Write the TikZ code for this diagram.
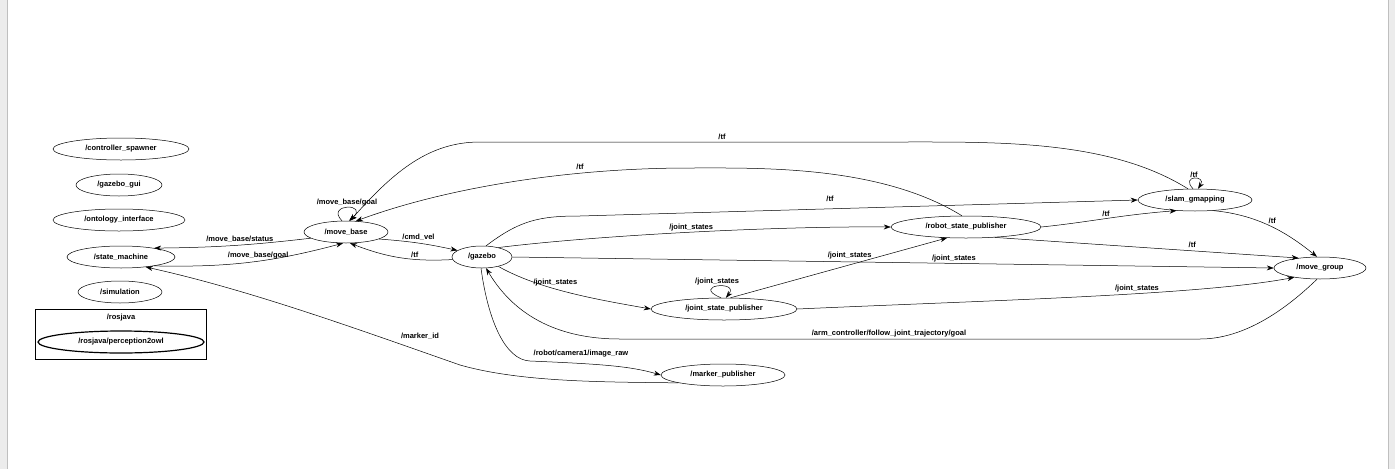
\documentclass[tikz,border=0pt]{standalone}
\usepackage{fontspec}
\setmainfont{Liberation Sans}
\usetikzlibrary{shapes.geometric,arrows.meta}
\begin{document}
\begin{tikzpicture}[x=1pt,y=-1pt,
  nd/.style={ellipse,draw,line width=0.5pt,inner sep=0pt,minimum height=22pt,font=\fontsize{7.5}{8}\selectfont\bfseries},
  e/.style={draw,line width=0.5pt,-{Stealth[length=7pt,width=5pt]}},
  lb/.style={font=\fontsize{7.5}{8}\selectfont\bfseries,inner sep=0pt}]
\useasboundingbox (0,0) rectangle (1395,469);
\fill[gray!15] (0,0) rectangle (7,469);
\fill[gray!15] (1388,0) rectangle (1395,469);
\draw[gray!50] (7,0)--(7,469) (1388,0)--(1388,469);
\node[nd,minimum width=136pt] (cs) at (121,149) {/controller\_spawner};
\node[nd,minimum width=86pt] (gg) at (119,185) {/gazebo\_gui};
\node[nd,minimum width=132pt] (oi) at (119,220) {/ontology\_interface};
\node[nd,minimum width=108pt] (sm) at (121,257) {/state\_machine};
\node[nd,minimum width=84pt] (si) at (120,292) {/simulation};
\node[draw,line width=0.5pt,minimum width=171pt,minimum height=50pt,inner sep=0pt] (rj) at (120.5,334) {};
\node[lb] (rjl) at (121,318) {/rosjava};
\node[nd,line width=1.2pt,minimum width=166pt] (p2o) at (121,342) {/rosjava/perception2owl};
\node[nd,minimum width=84pt] (mb) at (346,232) {/move\_base};
\node[nd,minimum width=60pt] (gz) at (482,257) {/gazebo};
\node[nd,minimum width=150pt] (rsp) at (966,227) {/robot\_state\_publisher};
\node[nd,minimum width=114pt] (slam) at (1195,200) {/slam\_gmapping};
\node[nd,minimum width=92pt] (mg) at (1320,268) {/move\_group};
\node[nd,minimum width=146pt] (jsp) at (724,309) {/joint\_state\_publisher};
\node[nd,minimum width=124pt] (mp) at (723,375) {/marker\_publisher};
% edges
\draw[e] (mb.190) to[bend left=3] node[lb,above=2pt,pos=0.45] {/move\_base/status} (sm.15);
\draw[e] (sm.-15) to[bend right=8] node[lb,above=2pt,pos=0.55] {/move\_base/goal} (mb.-105);
\draw[e] (mb.110) .. controls (325,203) and (370,203) .. node[lb,above=1pt] {/move\_base/goal} (mb.75);
\draw[e] (mb.-12) to[bend left=4] node[lb,above=2pt] {/cmd\_vel} (gz.165);
\draw[e] (gz.185) to[bend left=12] node[lb,above=1pt,pos=0.35] {/tf} (mb.-70);
\draw[e] (slam.122) .. controls (1110,140) and (1000,142) .. (900,142) -- (480,142) .. controls (430,142) and (395,170) .. (mb.70);
\node[lb] (tf1) at (722,137) {/tf};
\draw[e] (rsp.110) .. controls (880,165) and (760,168) .. (690,168) .. controls (560,168) and (440,190) .. (mb.48);
\node[lb] (tf2) at (580,167) {/tf};
\draw[e] (gz.70) .. controls (520,220) and (540,216) .. (580,216) -- (slam.west);
\node[lb] (tf3) at (830,199) {/tf};
\draw[e] (gz.30) .. controls (600,235) and (780,226) .. node[lb,above=1pt,pos=0.5] {/joint\_states} (rsp.west);
\draw[e] (gz.east) -- node[lb,above=1pt,pos=0.58] {/joint\_states} (mg.west);
\draw[e] (gz.-30) .. controls (540,290) and (600,300) .. node[lb,above=3pt,pos=0.4] {/joint\_states} (jsp.west);
\draw[e] (jsp.105) .. controls (690,285) and (740,280) .. node[lb,above=1pt] {/joint\_states} (jsp.80);
\draw[e] (jsp.60) -- node[lb,above=6pt,pos=0.55] {/joint\_states} (rsp.-150);
\draw[e] (jsp.east) .. controls (1000,300) and (1200,295) .. node[lb,above=1pt,pos=0.6] {/joint\_states} (mg.-160);
\draw[e] (rsp.east) .. controls (1090,222) and (1120,215) .. node[lb,above=2pt,pos=0.5] {/tf} (slam.-150);
\draw[e] (rsp.-20) -- node[lb,above=3pt,pos=0.65] {/tf} (mg.155);
\draw[e] (slam.-30) .. controls (1260,215) and (1290,235) .. node[lb,above right=1pt,pos=0.45] {/tf} (mg.105);
\draw[e] (slam.100) .. controls (1180,175) and (1207,175) .. node[lb,above=1pt] {/tf} (slam.75);
\draw[e] (mg.-105) .. controls (1280,315) and (1240,339) .. (1200,339) -- (620,339) .. controls (540,339) and (505,300) .. (gz.-70);
\node[lb] (arm) at (889,334) {/arm\_controller/follow\_joint\_trajectory/goal};
\draw[e] (gz.-95) .. controls (488,320) and (505,360) .. (530,361) .. controls (600,364) and (630,366) .. (mp.west);
\node[lb] (cam) at (581,354) {/robot/camera1/image\_raw};
\draw[e] (mp.-170) .. controls (600,382) and (520,382) .. (460,365) .. controls (360,330) and (250,290) .. (sm.-22);
\node[lb] (mid) at (420,336) {/marker\_id};
\end{tikzpicture}
\end{document}
